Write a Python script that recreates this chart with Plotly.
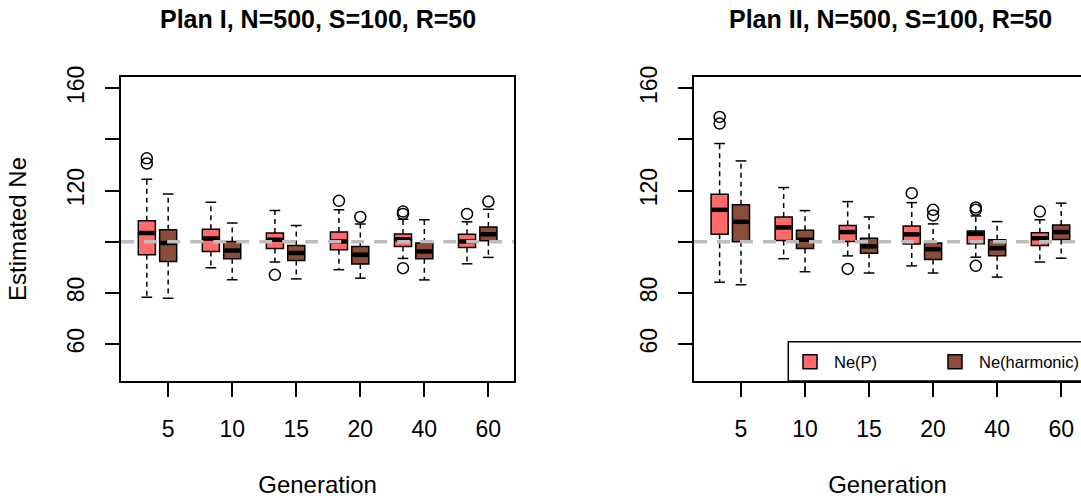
import plotly.graph_objects as go

# ---------------- data ----------------
generations = ["5", "10", "15", "20", "40", "60"]
series_names = ["Ne(P)", "Ne(harmonic)"]
panel_titles = ["Plan I, N=500, S=100, R=50", "Plan II, N=500, S=100, R=50"]
reference_ne = 100

# Plan I – Ne(P)
p1_nep_low = [78.3, 89.9, 92.1, 89.1, 93.5, 91.4]
p1_nep_q1 = [94.9, 96.2, 97.4, 96.9, 98.2, 97.8]
p1_nep_med = [103.4, 101.3, 100.8, 100.1, 101.0, 100.1]
p1_nep_q3 = [108.2, 104.9, 103.4, 103.8, 103.0, 102.9]
p1_nep_high = [124.4, 115.5, 112.2, 112.5, 108.8, 107.8]
p1_nep_out = [[132.6, 130.6], [], [87.1], [116.0], [111.8, 110.9, 89.7], [110.9]]

# Plan I – Ne(harmonic)
p1_neh_low = [77.9, 85.2, 85.5, 85.8, 85.1, 93.9]
p1_neh_q1 = [92.3, 93.4, 92.7, 91.3, 93.4, 100.4]
p1_neh_med = [99.5, 96.6, 95.6, 94.9, 96.2, 102.9]
p1_neh_q3 = [104.7, 100.1, 98.6, 98.2, 99.5, 105.8]
p1_neh_high = [118.7, 107.3, 106.4, 107.0, 108.6, 112.7]
p1_neh_out = [[], [], [], [109.7], [], [115.7]]

# Plan II – Ne(P)
p2_nep_low = [84.2, 93.4, 94.5, 90.6, 94.0, 92.1]
p2_nep_q1 = [102.9, 100.5, 100.1, 99.1, 99.2, 98.6]
p2_nep_med = [112.5, 105.6, 103.8, 102.9, 103.1, 101.4]
p2_nep_q3 = [118.6, 109.7, 106.4, 106.2, 104.2, 103.5]
p2_nep_high = [138.4, 121.2, 115.7, 115.3, 110.1, 108.6]
p2_nep_out = [[148.8, 146.2], [], [89.4], [119.0], [113.4, 112.5, 90.6], [111.8]]

# Plan II – Ne(harmonic)
p2_neh_low = [83.2, 88.3, 87.8, 87.8, 86.2, 93.6]
p2_neh_q1 = [100.0, 97.4, 95.5, 93.1, 94.5, 100.9]
p2_neh_med = [107.8, 100.8, 98.2, 97.1, 97.5, 103.8]
p2_neh_q3 = [114.5, 104.5, 101.4, 99.5, 100.8, 106.6]
p2_neh_high = [131.6, 112.2, 109.7, 107.0, 107.9, 115.1]
p2_neh_out = [[], [], [], [112.5, 110.3], [], []]

y_ticks = [60, 80, 100, 120, 140, 160]
y_ticktext = ["60", "80", "", "120", "", "160"]

# ---------------- style ----------------
FONT = "Liberation Sans, Arial, Helvetica, sans-serif"
COLORS = ["#FF6A6A", "#8B4C39"]
W, H = 1081, 500
BOX_W = 0.8
CAP_HALF = 0.25
LW = 1.5

panels = [
    dict(
        stats=[
            (p1_nep_low, p1_nep_q1, p1_nep_med, p1_nep_q3, p1_nep_high, p1_nep_out),
            (p1_neh_low, p1_neh_q1, p1_neh_med, p1_neh_q3, p1_neh_high, p1_neh_out),
        ],
        xa="x", ya="y",
    ),
    dict(
        stats=[
            (p2_nep_low, p2_nep_q1, p2_nep_med, p2_nep_q3, p2_nep_high, p2_nep_out),
            (p2_neh_low, p2_neh_q1, p2_neh_med, p2_neh_q3, p2_neh_high, p2_neh_out),
        ],
        xa="x2", ya="y2",
    ),
]

n = len(generations)
tick_pos = [3 * (i + 1) for i in range(n)]
series_offsets = [-1, 0]

fig = go.Figure()

for pnl in panels:
    for s, (low, q1, med, q3, high, outs) in enumerate(pnl["stats"]):
        xs = [tp + series_offsets[s] for tp in tick_pos]
        # box bodies
        fig.add_trace(go.Box(
            x=xs, q1=q1, median=med, q3=q3, lowerfence=q1, upperfence=q3,
            width=BOX_W, fillcolor=COLORS[s],
            line=dict(color="black", width=LW),
            xaxis=pnl["xa"], yaxis=pnl["ya"], showlegend=False,
            name=series_names[s], hoverinfo="skip",
        ))
        wx, wy, cx, cy, mx, my = [], [], [], [], [], []
        for i in range(n):
            wx += [xs[i], xs[i], None, xs[i], xs[i], None]
            wy += [q3[i], high[i], None, q1[i], low[i], None]
            cx += [xs[i] - CAP_HALF, xs[i] + CAP_HALF, None,
                   xs[i] - CAP_HALF, xs[i] + CAP_HALF, None]
            cy += [high[i], high[i], None, low[i], low[i], None]
            mx += [xs[i] - BOX_W / 2 + 0.04, xs[i] + BOX_W / 2 - 0.04, None]
            my += [med[i], med[i], None]
        fig.add_trace(go.Scatter(x=wx, y=wy, mode="lines",
                                 line=dict(color="black", width=LW, dash="5px,4px"),
                                 xaxis=pnl["xa"], yaxis=pnl["ya"], showlegend=False,
                                 hoverinfo="skip"))
        fig.add_trace(go.Scatter(x=cx, y=cy, mode="lines",
                                 line=dict(color="black", width=LW),
                                 xaxis=pnl["xa"], yaxis=pnl["ya"], showlegend=False,
                                 hoverinfo="skip"))
        fig.add_trace(go.Scatter(x=mx, y=my, mode="lines",
                                 line=dict(color="black", width=4.5),
                                 xaxis=pnl["xa"], yaxis=pnl["ya"], showlegend=False,
                                 hoverinfo="skip"))
        ox, oy = [], []
        for i in range(n):
            for v in outs[i]:
                ox.append(xs[i])
                oy.append(v)
        fig.add_trace(go.Scatter(x=ox, y=oy, mode="markers",
                                 marker=dict(symbol="circle-open", size=11, color="black",
                                             line=dict(width=LW, color="black")),
                                 xaxis=pnl["xa"], yaxis=pnl["ya"], showlegend=False,
                                 hoverinfo="skip"))

# geometry (pixels)
left_px = [121.2, 514.0]
right_px = [694.0, 1081.0]
top_px, bot_px = 77.0, 381.0
unit_px = (left_px[1] - left_px[0]) / 18.4
x_lo = 0.8

y_dom = [1 - bot_px / H, 1 - top_px / H]

common_x = dict(
    tickmode="array", tickvals=tick_pos, ticktext=generations,
    ticks="outside", ticklen=14, tickwidth=LW, tickcolor="black",
    showline=True, linecolor="black", linewidth=LW,
    showgrid=False, zeroline=False, automargin=False,
    tickfont=dict(family=FONT, size=23, color="black"),
    ticklabelstandoff=13,
    title=dict(text="Generation", font=dict(family=FONT, size=24, color="black"), standoff=35),
)
common_y = dict(
    range=[45.6, 164.4], domain=y_dom,
    tickmode="array", tickvals=y_ticks, ticktext=y_ticktext, tickangle=-90,
    ticks="outside", ticklen=14, tickwidth=LW, tickcolor="black",
    showline=True, linecolor="black", linewidth=LW,
    showgrid=False, zeroline=False, automargin=False,
    tickfont=dict(family=FONT, size=23, color="black"),
    ticklabelstandoff=12,
)

fig.update_layout(
    width=W, height=H,
    margin=dict(l=0, r=0, t=0, b=0, pad=0, autoexpand=False),
    paper_bgcolor="white", plot_bgcolor="white",
    boxmode="overlay",
    showlegend=False,
    xaxis=dict(common_x, domain=[left_px[0] / W, left_px[1] / W], range=[x_lo, 19.2],
               mirror=True, anchor="y"),
    yaxis=dict(common_y, mirror=True, anchor="x",
               title=dict(text="Estimated Ne", font=dict(family=FONT, size=24, color="black"),
                          standoff=30)),
    xaxis2=dict(common_x, domain=[right_px[0] / W, 1.0],
                range=[x_lo, x_lo + (right_px[1] - right_px[0]) / unit_px],
                mirror=True, anchor="y2"),
    yaxis2=dict(common_y, mirror=False, anchor="x2"),
)

# reference line at Ne = 100
for xr, yr in [("x domain", "y"), ("x2 domain", "y2")]:
    fig.add_shape(type="line", xref=xr, yref=yr, x0=0, x1=1, y0=reference_ne, y1=reference_ne,
                  line=dict(color="#BEBEBE", width=3.5, dash="13px,10px"), layer="above")

# panel titles
for k, (px0, px1) in enumerate([left_px, (right_px[0], right_px[0] + 18.4 * unit_px)]):
    fig.add_annotation(text="<b>" + panel_titles[k] + "</b>", xref="paper", yref="paper",
                       x=(px0 + px1) / 2 / W, y=1 - 19 / H, xanchor="center", yanchor="middle",
                       showarrow=False, font=dict(family=FONT, size=25, color="black"))

# legend (inside Plan II panel, bottom right)
leg_top = 341.7
fig.add_shape(type="rect", xref="paper", yref="paper",
              x0=788.3 / W, x1=1.05, y0=1 - bot_px / H, y1=1 - leg_top / H,
              line=dict(color="black", width=LW), fillcolor="white", layer="above")
leg_cy = 361.7
for s, (sq_x, tx) in enumerate([(810, 831.7), (955, 976.7)]):
    fig.add_shape(type="rect", xref="paper", yref="paper",
                  x0=(sq_x - 7) / W, x1=(sq_x + 7) / W,
                  y0=1 - (leg_cy + 7) / H, y1=1 - (leg_cy - 7) / H,
                  line=dict(color="black", width=LW), fillcolor=COLORS[s], layer="above")
    fig.add_annotation(text=series_names[s], xref="paper", yref="paper",
                       x=tx / W, y=1 - leg_cy / H, xanchor="left", yanchor="middle",
                       showarrow=False, font=dict(family=FONT, size=16.5, color="black"))

fig.write_html("out.html")
